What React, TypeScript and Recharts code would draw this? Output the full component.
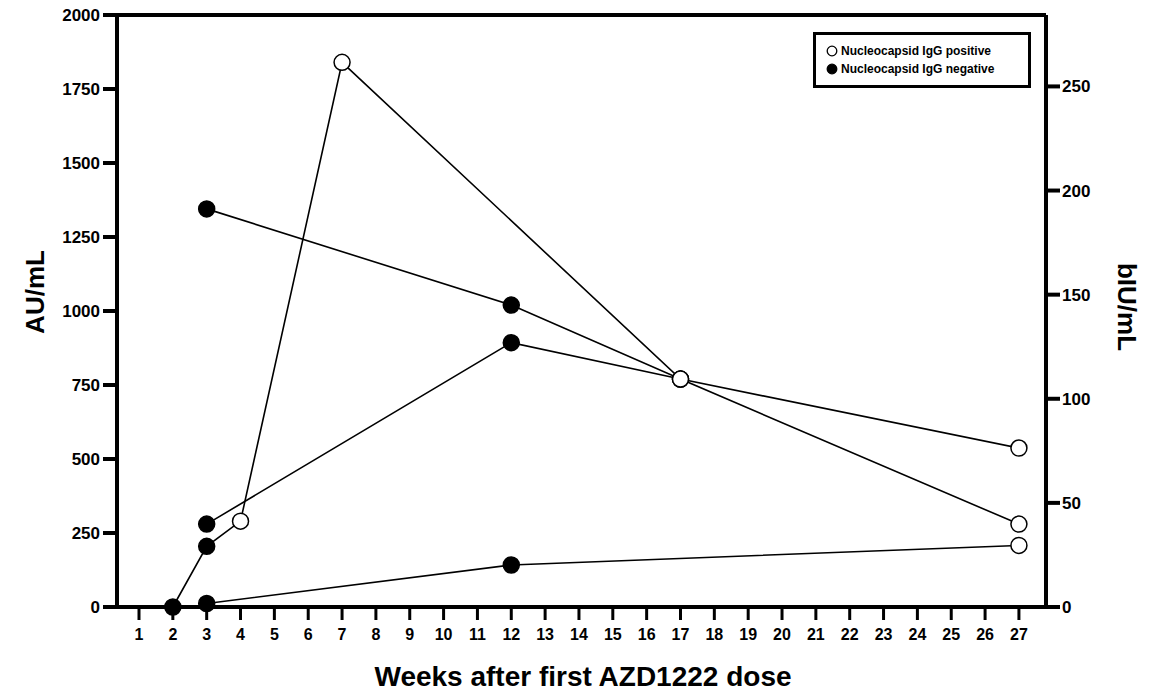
import { LineChart, Line, XAxis, YAxis, ReferenceLine } from 'recharts'

// weeks after first dose, AU/mL, and nucleocapsid IgG status per sample
const weeksA = [2, 3, 4, 7, 17, 27]
const auA = [0, 205, 290, 1840, 770, 280]
const posA = [false, false, true, true, true, true]

const weeksB = [3, 12, 17, 27]
const auB = [1345, 1020, 770, 537]
const posB = [false, false, true, true]

const weeksC = [3, 12, 17]
const auC = [280, 893, 770]
const posC = [false, false, true]

const weeksD = [3, 12, 27]
const auD = [12, 142, 208]
const posD = [false, false, true]

const weekTicks = Array.from({ length: 27 }, (_, i) => i + 1)
const auTicks = [0, 250, 500, 750, 1000, 1250, 1500, 1750, 2000]
const biuTicks = [0, 50, 100, 150, 200, 250]

const LEGEND = ['Nucleocapsid IgG positive', 'Nucleocapsid IgG negative']

type Row = { week: number; au: number; pos: boolean }
const rows = (w: number[], v: number[], p: boolean[]): Row[] =>
  w.map((week, i) => ({ week, au: v[i], pos: p[i] }))

const series = [
  rows(weeksA, auA, posA),
  rows(weeksB, auB, posB),
  rows(weeksC, auC, posC),
  rows(weeksD, auD, posD),
]

const FONT = "'Liberation Sans', Arial, sans-serif"

function Dot(props: any) {
  const { cx, cy, payload, index } = props
  if (cx == null || cy == null) return null
  return (
    <circle
      key={index}
      cx={cx}
      cy={cy}
      r={8}
      fill={payload.pos ? '#fff' : '#000'}
      stroke="#000"
      strokeWidth={1.5}
    />
  )
}

function LegendBox() {
  return (
    <div
      style={{
        position: 'absolute',
        left: 805,
        top: 32,
        border: '3px solid #000',
        background: '#fff',
        width: 218,
        height: 56,
        boxSizing: 'border-box',
        padding: '7px 0 0 10px',
        fontFamily: FONT,
        fontWeight: 700,
        fontSize: 12,
        lineHeight: '18px',
        color: '#000',
      }}
    >
      {LEGEND.map((name, i) => (
        <div key={name} style={{ display: 'flex', alignItems: 'center' }}>
          <svg width={12} height={12} style={{ marginRight: 3 }}>
            <circle cx={6} cy={6} r={4.8} fill={i === 0 ? '#fff' : '#000'} stroke="#000" strokeWidth={1.3} />
          </svg>
          {name}
        </div>
      ))}
    </div>
  )
}

export default function App() {
  // pulled up over the body margin so the top tick label stays inside the svg
  return (
    <div style={{ position: 'relative', width: 1136, height: 694, marginTop: -8 }}>
      <LineChart
        width={1136}
        height={694}
        margin={{ top: 15, right: 0, left: 0, bottom: 0 }}
      >
        <XAxis
          dataKey="week"
          type="number"
          domain={[0.35, 27.8]}
          ticks={weekTicks}
          interval={0}
          allowDuplicatedCategory={false}
          height={87}
          tickSize={13}
          tickMargin={9}
          axisLine={{ stroke: '#000', strokeWidth: 4 }}
          tickLine={{ stroke: '#000', strokeWidth: 3 }}
          tick={{ fill: '#000', fontSize: 16, fontWeight: 700, fontFamily: FONT }}
          label={{
            content: () => (
              <text
                x={575}
                y={676}
                textAnchor="middle"
                dominantBaseline="central"
                fontFamily={FONT}
                fontWeight={700}
                fontSize={28}
                fill="#000"
              >
                Weeks after first AZD1222 dose
              </text>
            ),
          }}
        />
        <YAxis
          yAxisId="left"
          type="number"
          domain={[0, 2000]}
          ticks={auTicks}
          interval={0}
          width={109}
          tickSize={14}
          tickMargin={3}
          axisLine={{ stroke: '#000', strokeWidth: 4 }}
          tickLine={{ stroke: '#000', strokeWidth: 4 }}
          tick={{ fill: '#000', fontSize: 17, fontWeight: 700, fontFamily: FONT }}
          label={{
            content: () => (
              <text
                x={27}
                y={292}
                textAnchor="middle"
                dominantBaseline="central"
                transform="rotate(-90, 27, 292)"
                fontFamily={FONT}
                fontWeight={700}
                fontSize={26}
                fill="#000"
              >
                AU/mL
              </text>
            ),
          }}
        />
        <YAxis
          yAxisId="right"
          orientation="right"
          type="number"
          domain={[0, 284.3]}
          allowDataOverflow
          ticks={biuTicks}
          interval={0}
          width={98}
          tickSize={14}
          tickMargin={2}
          axisLine={{ stroke: '#000', strokeWidth: 4 }}
          tickLine={{ stroke: '#000', strokeWidth: 4 }}
          tick={{ fill: '#000', fontSize: 17, fontWeight: 700, fontFamily: FONT }}
          label={{
            content: () => (
              <text
                x={1119}
                y={307}
                textAnchor="middle"
                dominantBaseline="central"
                transform="rotate(90, 1119, 307)"
                fontFamily={FONT}
                fontWeight={700}
                fontSize={26}
                fill="#000"
              >
                bIU/mL
              </text>
            ),
          }}
        />
        <ReferenceLine yAxisId="left" y={2000} stroke="#000" strokeWidth={4} />
        <Line
          yAxisId="right"
          data={[]}
          dataKey="au"
          stroke="none"
          dot={false}
          activeDot={false}
          isAnimationActive={false}
        />
        {series.map((data, i) => (
          <Line
            key={i}
            yAxisId="left"
            data={data}
            dataKey="au"
            stroke="#000"
            strokeWidth={1.6}
            dot={Dot}
            activeDot={false}
            isAnimationActive={false}
          />
        ))}
      </LineChart>
      <LegendBox />
    </div>
  )
}
